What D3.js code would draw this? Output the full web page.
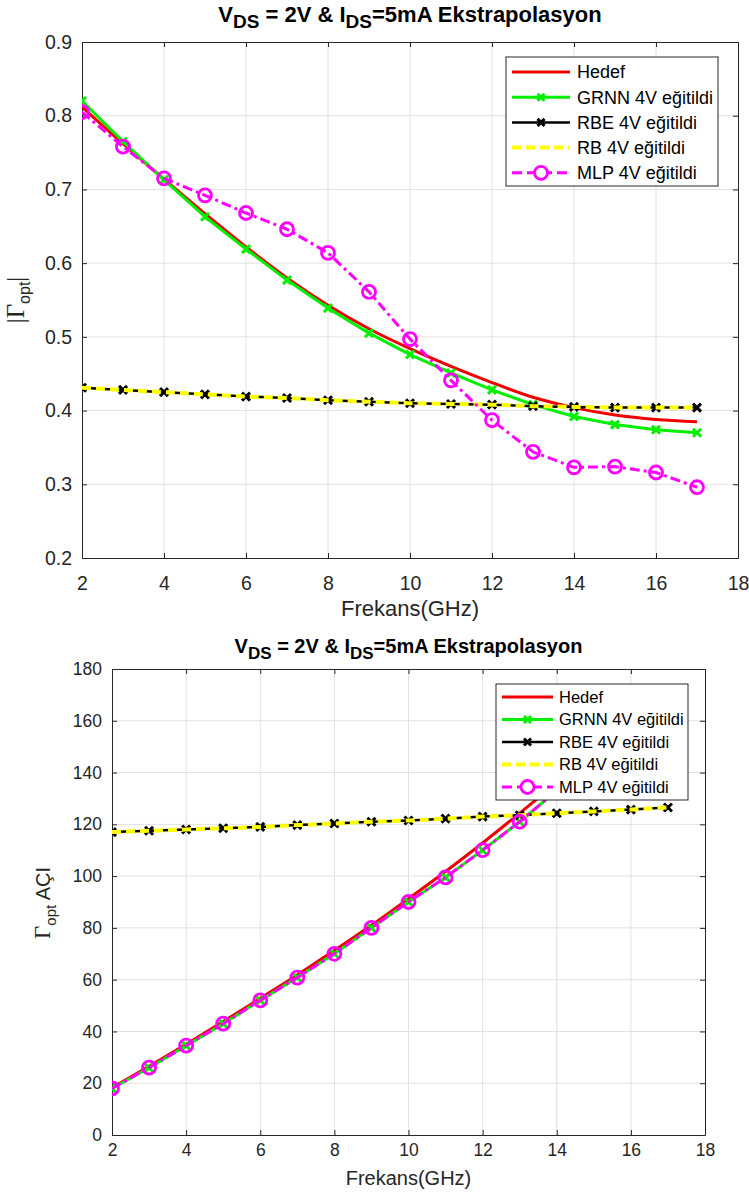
<!DOCTYPE html>
<html><head><meta charset="utf-8">
<script src="https://cdn.jsdelivr.net/npm/d3@7"></script>
<style>body{margin:0;background:#fff}svg{display:block}</style>
</head><body>
<svg id="c" width="749" height="1197"></svg>
<script>
// ---------- data ----------
const freq = [2,3,4,5,6,7,8,9,10,11,12,13,14,15,16,17];
const seriesNames = ["Hedef","GRNN 4V eğitildi","RBE 4V eğitildi","RB 4V eğitildi","MLP 4V eğitildi"];

// top chart |Γopt|
const magHedef = [0.812,0.762,0.714,0.667,0.622,0.580,0.543,0.511,0.484,0.460,0.438,0.418,0.404,0.394,0.388,0.385];
const magGRNN  = [0.820,0.765,0.713,0.663,0.619,0.577,0.539,0.505,0.476,0.451,0.428,0.408,0.392,0.381,0.374,0.370];
const magRBE   = [0.431,0.428,0.425,0.422,0.419,0.417,0.414,0.412,0.410,0.409,0.408,0.406,0.405,0.404,0.404,0.404];
const magRB    = [0.431,0.428,0.425,0.422,0.419,0.417,0.414,0.412,0.410,0.409,0.408,0.406,0.405,0.404,0.404,0.404];
const magMLP   = [0.805,0.758,0.715,0.692,0.668,0.646,0.614,0.561,0.497,0.441,0.387,0.344,0.323,0.324,0.316,0.296];

// bottom chart Γopt angle
const angHedef = [18.3,26.5,35.0,43.8,52.8,61.8,71.3,81.0,91.3,101.8,112.8,124.3,136.0,148.0,160.5,173.0];
const angGRNN  = [18.0,26.0,34.5,43.0,52.0,60.8,70.0,80.0,90.0,99.5,110.0,121.0,133.0,145.5,158.0,171.0];
const angRBE   = [117.0,117.5,118.0,118.5,119.0,119.7,120.3,121.0,121.5,122.2,123.0,123.5,124.3,125.0,125.7,126.5];
const angRB    = [117.0,117.5,118.0,118.5,119.0,119.7,120.3,121.0,121.5,122.2,123.0,123.5,124.3,125.0,125.7,126.5];
const angMLP   = [18.0,26.0,34.5,43.0,52.0,60.8,70.0,80.0,90.0,99.5,110.0,121.0,133.0,145.5,158.0,171.0];

const xTicks = [2,4,6,8,10,12,14,16,18];
const magTicks = [0.2,0.3,0.4,0.5,0.6,0.7,0.8,0.9];
const angTicks = [0,20,40,60,80,100,120,140,160,180];

// ---------- styles ----------
const styles = [
  {color:"#f00000", width:3, dash:null, marker:null, curve:true},
  {color:"#00f000", width:3, dash:null, marker:"x"},
  {color:"#000000", width:2.5, dash:null, marker:"x"},
  {color:"#ffff00", width:4, dash:"9,5", marker:null},
  {color:"#ff00ff", width:3, dash:"10,4,3,4", marker:"o"}
];

const svg = d3.select("#c");
const AX = "#262626";
const FONT = "'Liberation Sans', Arial, sans-serif";

function drawChart(cfg){
  const g = svg.append("g");
  const x = d3.scaleLinear().domain([2,18]).range([cfg.left, cfg.right]);
  const y = d3.scaleLinear().domain(cfg.ydom).range([cfg.bottom, cfg.top]);

  // grid
  g.append("g").selectAll("line").data(xTicks.slice(1,-1)).join("line")
    .attr("x1",d=>x(d)).attr("x2",d=>x(d)).attr("y1",cfg.top).attr("y2",cfg.bottom)
    .attr("stroke","#e0e0e0").attr("stroke-width",1);
  g.append("g").selectAll("line").data(cfg.yticks.slice(1,-1)).join("line")
    .attr("y1",d=>y(d)).attr("y2",d=>y(d)).attr("x1",cfg.left).attr("x2",cfg.right)
    .attr("stroke","#e0e0e0").attr("stroke-width",1);

  // axes
  const xb = g.append("g").attr("transform",`translate(0,${cfg.bottom})`)
    .call(d3.axisBottom(x).tickValues(xTicks).tickSizeInner(-5).tickSizeOuter(0).tickPadding(cfg.xPad));
  const xt = g.append("g").attr("transform",`translate(0,${cfg.top})`)
    .call(d3.axisTop(x).tickValues(xTicks).tickSizeInner(-5).tickSizeOuter(0).tickFormat(""));
  const yl = g.append("g").attr("transform",`translate(${cfg.left},0)`)
    .call(d3.axisLeft(y).tickValues(cfg.yticks).tickSizeInner(-5).tickSizeOuter(0).tickPadding(10).tickFormat(cfg.fmt));
  const yr = g.append("g").attr("transform",`translate(${cfg.right},0)`)
    .call(d3.axisRight(y).tickValues(cfg.yticks).tickSizeInner(-5).tickSizeOuter(0).tickFormat(""));
  [xb,xt,yl,yr].forEach(a=>{
    a.attr("font-size",null).attr("font-family",null);
    a.select(".domain").attr("stroke",AX).attr("stroke-width",1);
    a.selectAll(".tick line").attr("stroke",AX);
    a.selectAll("text").attr("fill",AX).style("font-family",FONT).style("font-size",cfg.tickFs+"px");
  });

  // series
  const clipId = "clip"+cfg.id;
  svg.append("clipPath").attr("id",clipId).append("rect")
    .attr("x",cfg.left).attr("y",cfg.top).attr("width",cfg.right-cfg.left).attr("height",cfg.bottom-cfg.top);
  const plot = g.append("g").attr("clip-path",`url(#${clipId})`);
  cfg.series.forEach((vals,i)=>{
    const st = styles[i];
    const pts = freq.map((f,k)=>[f,vals[k]]);
    const line = d3.line().x(d=>x(d[0])).y(d=>y(d[1]))
      .curve(st.curve ? d3.curveMonotoneX : d3.curveLinear);
    plot.append("path").attr("d",line(pts)).attr("fill","none")
      .attr("stroke",st.color).attr("stroke-width",st.width)
      .attr("stroke-dasharray",st.dash).attr("stroke-linejoin","round");
    if(st.marker==="x"){
      const s=4;
      plot.append("g").selectAll("path").data(pts).join("path")
        .attr("d",d=>`M${x(d[0])-s},${y(d[1])-s}L${x(d[0])+s},${y(d[1])+s}M${x(d[0])-s},${y(d[1])+s}L${x(d[0])+s},${y(d[1])-s}`)
        .attr("stroke",st.color).attr("stroke-width",3);
    } else if(st.marker==="o"){
      plot.append("g").selectAll("circle").data(pts).join("circle")
        .attr("cx",d=>x(d[0])).attr("cy",d=>y(d[1])).attr("r",6.5)
        .attr("fill","none").attr("stroke",st.color).attr("stroke-width",2.8);
    }
  });

  // title
  const t = g.append("text").attr("x",(cfg.left+cfg.right)/2).attr("y",cfg.titleY)
    .attr("text-anchor","middle").style("font-family",FONT).attr("font-weight","bold")
    .style("font-size",cfg.titleFs+"px").attr("fill","#000");
  const sub = Math.round(cfg.titleFs*0.85);
  t.append("tspan").text("V");
  t.append("tspan").attr("dy",6).style("font-size",sub+"px").text("DS");
  t.append("tspan").attr("dy",-6).text(" = 2V & I");
  t.append("tspan").attr("dy",6).style("font-size",sub+"px").text("DS");
  t.append("tspan").attr("dy",-6).text("=5mA Ekstrapolasyon");

  // x label
  g.append("text").attr("x",(cfg.left+cfg.right)/2).attr("y",cfg.xlabY)
    .attr("text-anchor","middle").style("font-family",FONT).style("font-size",cfg.labFs+"px")
    .attr("fill",AX).text("Frekans(GHz)");

  // y label
  const ylab = g.append("text").attr("transform",`translate(${cfg.ylabX},${cfg.ylabCY}) rotate(-90)`)
    .attr("text-anchor","middle").attr("fill",AX);
  cfg.ylabel(ylab);

  // legend
  const L = cfg.legend;
  const lg = g.append("g");
  lg.append("rect").attr("x",L.x).attr("y",L.y).attr("width",L.w).attr("height",L.h)
    .attr("fill","#fff").attr("stroke",AX).attr("stroke-width",1);
  seriesNames.forEach((name,i)=>{
    const st = styles[i];
    const cy = L.y + L.pad + i*L.step;
    const x1 = L.x + L.lx1, x2 = L.x + L.lx2, xm=(x1+x2)/2;
    lg.append("line").attr("x1",x1).attr("x2",x2).attr("y1",cy).attr("y2",cy)
      .attr("stroke",st.color).attr("stroke-width",st.width)
      .attr("stroke-dasharray",st.dash? (i===3?"9,5":"10,5"):null);
    if(st.marker==="x"){
      const s=3.5;
      lg.append("path").attr("d",`M${xm-s},${cy-s}L${xm+s},${cy+s}M${xm-s},${cy+s}L${xm+s},${cy-s}`)
        .attr("stroke",st.color).attr("stroke-width",3);
    } else if(st.marker==="o"){
      lg.append("circle").attr("cx",xm).attr("cy",cy).attr("r",6.5).attr("fill","#fff")
        .attr("stroke",st.color).attr("stroke-width",2.8);
    }
    lg.append("text").attr("x",L.x+L.tx).attr("y",cy).attr("dy","0.36em")
      .style("font-family",FONT).style("font-size",L.fs+"px").attr("fill","#000").text(name);
  });
}

drawChart({
  id:1, left:82, right:738, top:42, bottom:558,
  ydom:[0.2,0.9], yticks:magTicks, fmt:d3.format(".1f"), tickFs:19.5, xPad:18,
  titleFs:22, labFs:22,
  series:[magHedef,magGRNN,magRBE,magRB,magMLP],
  titleY:22, xlabY:616, ylabX:24, ylabCY:300,
  ylabel: el=>{
    el.append("tspan").style("font-family","'Liberation Serif', serif").style("font-size","25px").text("|Γ");
    el.append("tspan").style("font-family",FONT).style("font-size","16px").attr("dy",6).text("opt");
    el.append("tspan").style("font-family","'Liberation Serif', serif").style("font-size","25px").attr("dy",-6).text("|");
  },
  legend:{x:506,y:57,w:212,h:129,pad:15,step:25.2,lx1:6,lx2:64,tx:71,fs:18}
});

drawChart({
  id:2, left:112, right:705, top:669, bottom:1135,
  ydom:[0,180], yticks:angTicks, fmt:d3.format("d"), tickFs:17.5, xPad:9,
  titleFs:20, labFs:20,
  series:[angHedef,angGRNN,angRBE,angRB,angMLP],
  titleY:653, xlabY:1185, ylabX:50, ylabCY:903,
  ylabel: el=>{
    el.append("tspan").style("font-family","'Liberation Serif', serif").style("font-size","23px").text("Γ");
    el.append("tspan").style("font-family",FONT).style("font-size","15px").attr("dy",6).text("opt");
    el.append("tspan").style("font-family",FONT).style("font-size","20px").attr("dy",-6).text(" AÇI");
  },
  legend:{x:496,y:684,w:192,h:116,pad:13,step:22.5,lx1:6,lx2:57,tx:63,fs:16.5}
});
</script>
</body></html>
